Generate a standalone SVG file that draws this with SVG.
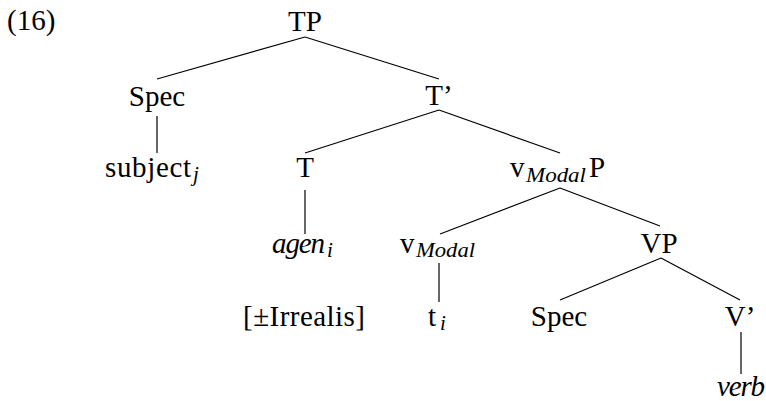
<svg xmlns="http://www.w3.org/2000/svg" width="766" height="401" viewBox="0 0 766 401">
<style>
text{font-family:"Liberation Serif",serif;font-size:29px;fill:#000}
.it{font-style:italic}
.sub{font-size:21px;font-style:italic}
.c{text-anchor:middle}
#edges line{stroke:#000;stroke-width:1.2}
</style>
<rect width="766" height="401" fill="#fff"/>
<g id="edges">
<line x1="305" y1="37" x2="157" y2="79"/>
<line x1="305" y1="37" x2="439" y2="79"/>
<line x1="157" y1="116" x2="157" y2="153"/>
<line x1="439" y1="110" x2="305" y2="153"/>
<line x1="439" y1="110" x2="560" y2="153"/>
<line x1="305" y1="190" x2="305" y2="234"/>
<line x1="560" y1="188" x2="440" y2="234"/>
<line x1="560" y1="188" x2="660" y2="226"/>
<line x1="439" y1="263" x2="439" y2="302"/>
<line x1="661" y1="258" x2="560" y2="300"/>
<line x1="661" y1="258" x2="740" y2="300"/>
<line x1="741" y1="332" x2="741" y2="374"/>
</g>
<g id="label16"><text x="7" y="30">(16)</text></g>
<g id="TP"><text class="c" x="305" y="31">TP</text></g>
<g id="Spec1"><text class="c" x="157" y="106">Spec</text></g>
<g id="Tbar"><text class="c" x="439" y="105">T&#8217;</text></g>
<g id="subject"><text x="105" y="177" textLength="86">subject</text><text class="sub" x="193" y="181">j</text></g>
<g id="T"><text class="c" x="305" y="177">T</text></g>
<g id="vModalP"><text x="510" y="177">v</text><text class="sub" x="526" y="182" textLength="60" lengthAdjust="spacingAndGlyphs">Modal</text><text x="589" y="177">P</text></g>
<g id="agen"><text class="it" x="272" y="253" textLength="53">agen</text><text class="sub" x="327" y="257">i</text></g>
<g id="vModal"><text x="400" y="253">v</text><text class="sub" x="416" y="257" textLength="59" lengthAdjust="spacingAndGlyphs">Modal</text></g>
<g id="VP"><text class="c" x="659" y="253">VP</text></g>
<g id="Irrealis"><text x="243" y="326" textLength="122">[&#177;Irrealis]</text></g>
<g id="ti"><text x="428" y="326">t</text><text class="sub" x="440" y="330">i</text></g>
<g id="Spec2"><text class="c" x="559" y="326">Spec</text></g>
<g id="Vbar"><text class="c" x="740" y="326">V&#8217;</text></g>
<g id="verb"><text class="it" x="717" y="396" textLength="48">verb</text></g>
</svg>
